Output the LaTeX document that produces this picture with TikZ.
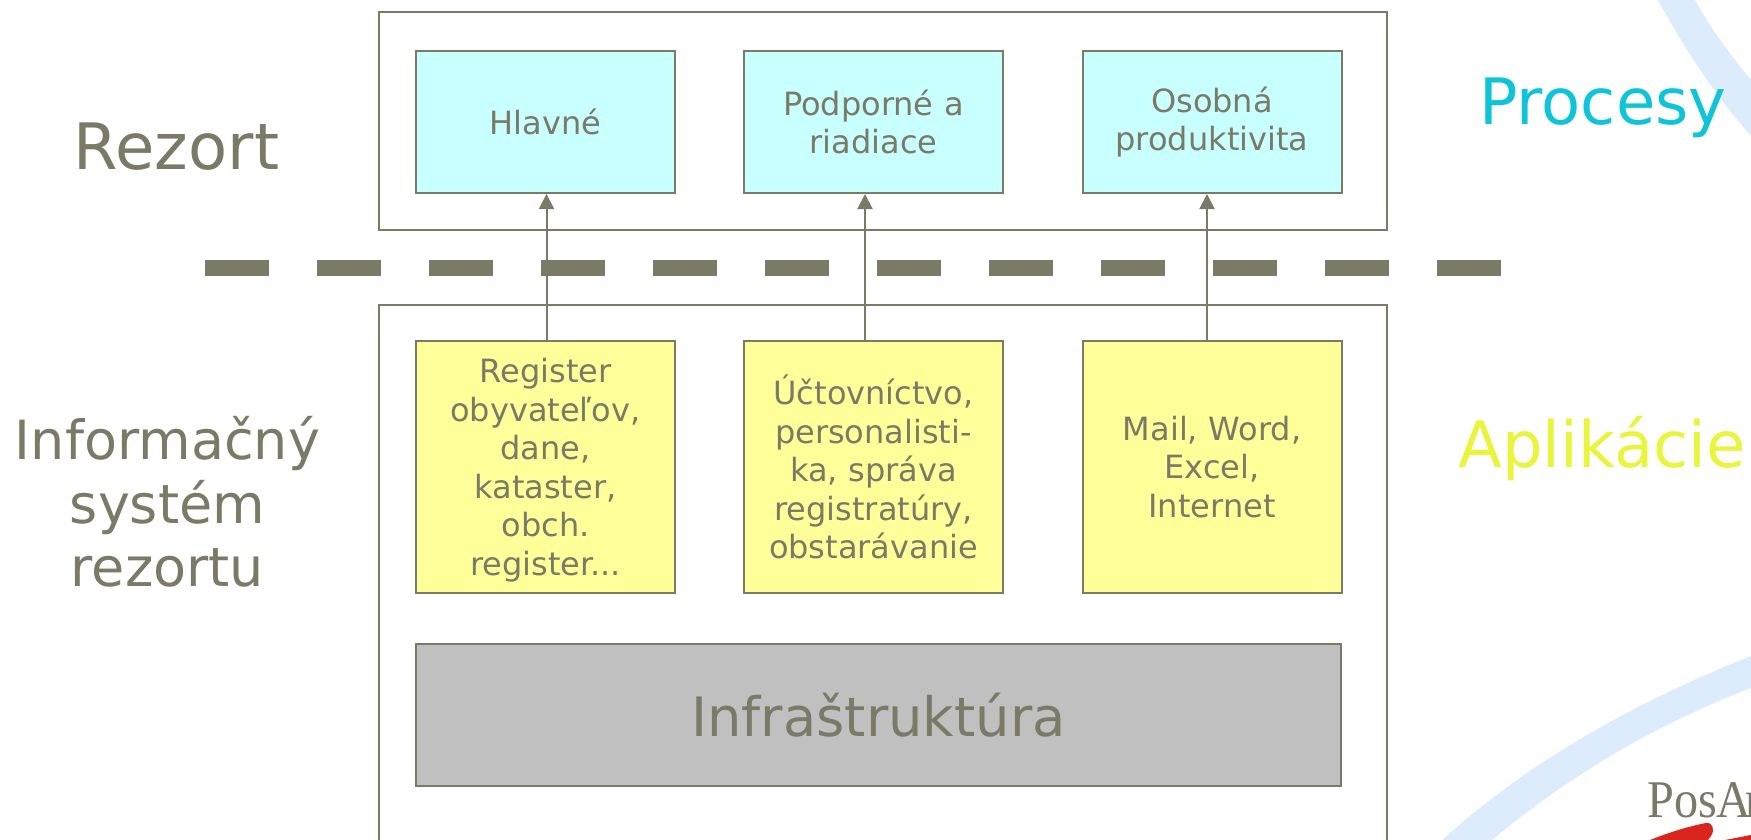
\documentclass[tikz,border=0pt]{standalone}
\usepackage{fontspec}
\usetikzlibrary{arrows.meta}
\setmainfont{DejaVu Sans}
\newfontfamily\logofont[FakeStretch=0.91]{Liberation Serif}
\definecolor{olivegray}{HTML}{7A7A66}
\definecolor{procblue}{HTML}{C8FFFF}
\definecolor{appyellow}{HTML}{FFFF99}
\definecolor{infragray}{HTML}{C0C0C0}
\definecolor{ribbonblue}{HTML}{DDECFC}
\definecolor{procesycolor}{HTML}{0FC4D8}
\definecolor{aplikaciecolor}{HTML}{E8F53C}
\definecolor{logored}{HTML}{D9251C}
\begin{document}
\begin{tikzpicture}
    [
    x=1pt,y=-1pt,
    outerbox/.style={draw=olivegray,line width=2pt,minimum width=1008pt,inner sep=0pt},
    innerbox/.style={draw=olivegray,line width=2pt,text=olivegray,minimum width=259pt,text width=250pt,align=center,inner sep=0pt,font=\fontsize{32}{38.5}\selectfont},
    procbox/.style={innerbox,fill=procblue,minimum height=142pt},
    appbox/.style={innerbox,fill=appyellow,minimum height=252pt},
    sidelabel/.style={text=olivegray,align=center,font=\fontsize{54}{63.5}\selectfont},
    uparrow/.style={-{Triangle[length=15pt,width=15pt]},olivegray,line width=2pt},
    ]
    \useasboundingbox (0,0) rectangle (1751,840);
    \clip (0,0) rectangle (1751,840);
    % ribbons
    \fill [ribbonblue] (1658,0) .. controls (1685,50) and (1715,95) .. (1751,136) -- (1751,80) .. controls (1730,55) and (1710,27) .. (1695,0) -- cycle;
    \fill [ribbonblue] (1442,840) .. controls (1530,760) and (1640,700) .. (1751,656) -- (1751,688) .. controls (1655,725) and (1570,775) .. (1492,840) -- cycle;
    % big boxes
    \node (rezortbox) at (882.5,121) [outerbox,minimum height=218pt] {};
    \node (systembox) at (882.5,605) [outerbox,minimum height=600pt] {};
    % processes
    \node (hlavne) at (545.5,122) [procbox] {Hlavné};
    \node (podporne) at (873.5,122) [procbox] {Podporné a\\riadiace};
    \node (osobna) at (1212,122) [procbox] {Osobná\\produktivita};
    % applications
    \node (register) at (545.5,467) [appbox] {\rule{0pt}{31pt}Register\\obyvateľov,\\dane,\\kataster,\\obch.\\register...};
    \node (uctovnictvo) at (873.5,467) [appbox] {Účtovníctvo,\\personalisti-\\ka, správa\\registratúry,\\obstarávanie};
    \node (mail) at (1212,467) [appbox] {Mail, Word,\\Excel,\\Internet};
    \node (infra) at (878.5,715) [draw=olivegray,line width=2pt,fill=infragray,text=olivegray,minimum width=925pt,minimum height=142pt,font=\fontsize{54.3}{64}\selectfont] {Infraštruktúra};
    % side labels
    \node (rezort) at (176.5,147) [text=olivegray,font=\fontsize{64}{64}\selectfont] {Rezort};
    \node (system) at (167.5,502) [sidelabel] {Informačný\\systém\\rezortu};
    \node (procesy) at (1603,108) [text=procesycolor,font=\fontsize{64}{64}\selectfont] {Procesy};
    \node (aplikacie) at (1602,449) [text=aplikaciecolor,font=\fontsize{64}{64}\selectfont] {Aplikácie};
    % arrows
    \draw [uparrow] ([xshift=1pt]register.north) to ([xshift=1pt]hlavne.south);
    \draw [uparrow] ([xshift=-8.5pt]uctovnictvo.north) to ([xshift=-8.5pt]podporne.south);
    \draw [uparrow] ([xshift=-5pt]mail.north) to ([xshift=-5pt]osobna.south);
    % divider
    \coordinate (divstart) at (205,268);
    \coordinate (divend) at (1501,268);
    \draw [olivegray,line width=16pt,dash pattern=on 64pt off 48pt] (divstart) to (divend);
    % logo
    \node (logo) at (1647,817) [anchor=base west,inner sep=0pt,text=olivegray,font=\logofont\fontsize{53}{53}\selectfont] {PosA\kern-6pt m};
    \fill [logored] (1650,840) .. controls (1670,832) and (1690,826) .. (1706,823) .. controls (1713,822) and (1715,830) .. (1711,836) -- (1708,840) -- cycle;
    \fill [logored] (1725,840) -- (1751,835) -- (1751,840) -- cycle;
  \end{tikzpicture}
\end{document}
